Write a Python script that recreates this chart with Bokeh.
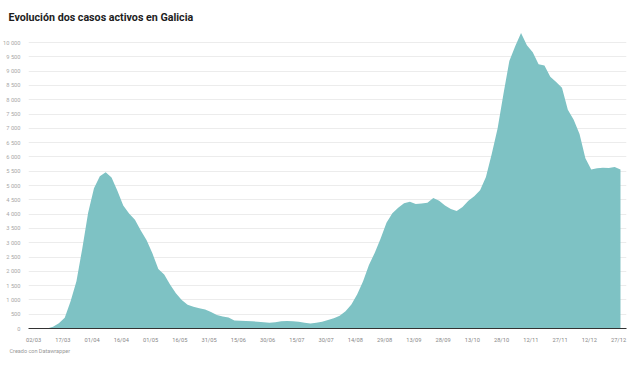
import pandas as pd
from bokeh.plotting import figure
from bokeh.models import Range1d, FixedTicker, DatetimeTickFormatter, Title
from bokeh.embed import file_html
from bokeh.resources import INLINE

# ---- data (active cases, read every 3 days starting 29/02/2020) ----
start_date = "2020-02-29"
step = "3D"
active_cases = [
    0, 0, 0, 0, 60, 185, 380, 950, 1650, 2800,
    4050, 4900, 5320, 5460, 5280, 4820, 4300, 4020, 3800, 3430,
    3090, 2620, 2080, 1890, 1540, 1230, 1000, 830, 760, 710,
    660, 580, 470, 420, 385, 280, 270, 260, 250, 240,
    220, 205, 215, 250, 260, 250, 235, 205, 175, 200,
    235, 300, 360, 450, 600, 840, 1200, 1650, 2220, 2650,
    3150, 3700, 4030, 4220, 4380, 4430, 4350, 4370, 4400, 4560,
    4470, 4300, 4180, 4110, 4250, 4470, 4620, 4830, 5300, 6110,
    7000, 8210, 9350, 9870, 10330, 9900, 9660, 9240, 9200, 8800,
    8620, 8420, 7650, 7300, 6800, 5950, 5560, 5600, 5620, 5610,
    5650, 5560,
]
dates = pd.date_range(start_date, periods=len(active_cases), freq=step)

x_tick_dates = ["2020-03-02", "2020-03-17", "2020-04-01", "2020-04-16", "2020-05-01",
                "2020-05-16", "2020-05-31", "2020-06-15", "2020-06-30", "2020-07-15",
                "2020-07-30", "2020-08-14", "2020-08-29", "2020-09-13", "2020-09-28",
                "2020-10-13", "2020-10-28", "2020-11-12", "2020-11-27", "2020-12-12",
                "2020-12-27"]
y_ticks = list(range(0, 10001, 500))
y_tick_labels = ["0", "500", "1 000", "1 500", "2 000", "2 500", "3 000", "3 500",
                 "4 000", "4 500", "5 000", "5 500", "6 000", "6 500", "7 000",
                 "7 500", "8 000", "8 500", "9 000", "9 500", "10 000"]

title_text = "Evolución dos casos activos en Galicia"
footer_text = "Creado con Datawrapper"

# ---- figure ----
x_start = pd.Timestamp("2020-02-28 10:00")
x_end = pd.Timestamp("2020-12-31 02:00")

p = figure(frame_width=598, frame_height=300, x_axis_type="datetime",
           x_range=Range1d(x_start, x_end), y_range=Range1d(0, 10490),
           output_backend="svg", toolbar_location=None,
           min_border_left=22, min_border_right=4, min_border_top=28,
           min_border_bottom=30)
p.outline_line_color = None
p.background_fill_color = "white"
p.border_fill_color = "white"

p.varea(x=dates, y1=0, y2=active_cases, fill_color="#7ec2c4", fill_alpha=1.0)

# title
p.title.text = title_text
p.title.align = "left"
p.title.offset = -20
p.title.text_font = "Roboto"
p.title.text_font_size = "10.7px"
p.title.text_font_style = "bold"
p.title.text_color = "#1d1d1d"
p.title.standoff = 10

# footer
foot = Title(text=footer_text, align="left", offset=-19, text_font="Roboto",
             text_font_size="5.5px", text_font_style="normal", text_color="#999999",
             standoff=1)
p.add_layout(foot, "below")

# y axis
p.yaxis.ticker = FixedTicker(ticks=y_ticks)
p.yaxis.major_label_overrides = {t: l for t, l in zip(y_ticks, y_tick_labels)}
p.yaxis.axis_line_color = None
p.yaxis.major_tick_line_color = None
p.yaxis.minor_tick_line_color = None
p.yaxis.major_label_standoff = 2
p.yaxis.major_label_text_font = "Roboto"
p.yaxis.major_label_text_font_size = "5.7px"
p.yaxis.major_label_text_color = "#a8a8a8"

# x axis
x_ticks_ms = [pd.Timestamp(d).value // 10**6 for d in x_tick_dates]
p.xaxis.ticker = FixedTicker(ticks=x_ticks_ms)
p.xaxis.formatter = DatetimeTickFormatter(days="%d/%m", months="%d/%m")
p.xaxis.axis_line_color = "#333333"
p.xaxis.axis_line_width = 1
p.xaxis.major_tick_line_color = None
p.xaxis.minor_tick_line_color = None
p.xaxis.major_label_standoff = 2
p.xaxis.major_label_text_font = "Roboto"
p.xaxis.major_label_text_font_size = "5.7px"
p.xaxis.major_label_text_color = "#888888"

# grids
p.xgrid.grid_line_color = None
p.ygrid.ticker = FixedTicker(ticks=y_ticks[1:])
p.ygrid.grid_line_color = "#ececec"
p.ygrid.grid_line_width = 1

open("out.html", "w").write(file_html(p, INLINE))
